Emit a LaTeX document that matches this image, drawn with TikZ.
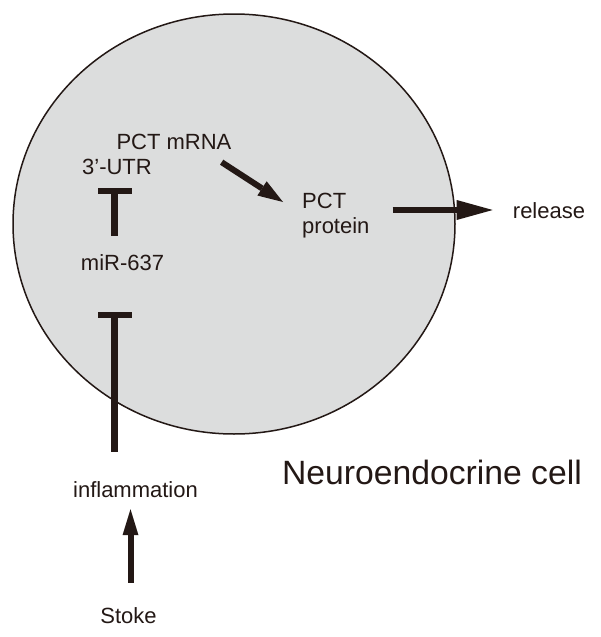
\documentclass[tikz,border=0pt]{standalone}
\usepackage{fontspec}
\setmainfont{Liberation Sans}
\usetikzlibrary{arrows.meta}
\definecolor{ink}{RGB}{35,24,21}
\definecolor{cellgray}{RGB}{220,221,221}

\begin{document}
\begin{tikzpicture}[x=1pt,y=-1pt,
		lbl/.style={inner sep=0pt,text=ink,font=\fontsize{22}{25}\selectfont,text height=16pt,text depth=0pt},
		act/.style={line width=6pt,draw=ink,-{Triangle[length=26pt,width=16pt,line width=0pt]}},
		inhibit/.style={line width=7pt,draw=ink,-{Rectangle[length=6pt,width=34pt,line width=0pt]}}]
			\useasboundingbox (0,0) rectangle (600,637);
			\draw[draw=ink,fill=cellgray,line width=1.5pt] (234,224) ellipse [x radius=221pt,y radius=210pt];

			\node[lbl] (mrna) at (174,141) {PCT mRNA};
			\node[lbl] (utr) at (117,166.5) {3’-UTR};
			\node[lbl] (mir) at (122.5,262) {miR-637};
			\node[inner sep=0pt,text=ink,font=\fontsize{22}{25}\selectfont,align=left,anchor=north west] (prot) at (302,193) {PCT\\protein};
			\node[lbl] (release) at (549,210) {release};
			\node[lbl] (infl) at (135.5,489) {inflammation};
			\node[lbl] (stoke) at (128.5,615) {Stoke};
			\node[lbl,font=\fontsize{33.7}{40}\selectfont,text height=24pt] (cell) at (432,472) {Neuroendocrine cell};

			\draw[inhibit,shorten <=18pt,shorten >=13.5pt] ([xshift=-8pt]mir.north) -- ([xshift=-8pt]mir.north |- utr.south);
			\draw[inhibit,shorten <=29pt,shorten >=42pt] ([xshift=-8pt]mir.south |- infl.north) -- ([xshift=-8pt]mir.south);
			\draw[act,shorten <=24pt,shorten >=12pt] ([xshift=2pt]stoke.north) -- ([xshift=2pt]stoke.north |- infl.south);
			\draw[act,-{Triangle[length=25pt,width=17pt,line width=0pt]}] ([xshift=-10pt,yshift=-13pt]mrna.south east) -- ([xshift=-19pt,yshift=-9pt]prot.north west);
			\draw[act,-{Triangle[length=36pt,width=20pt,line width=0pt]},shorten <=23pt,shorten >=20pt] (release.west -| prot.east) -- (release.west);
		\end{tikzpicture}
\end{document}
